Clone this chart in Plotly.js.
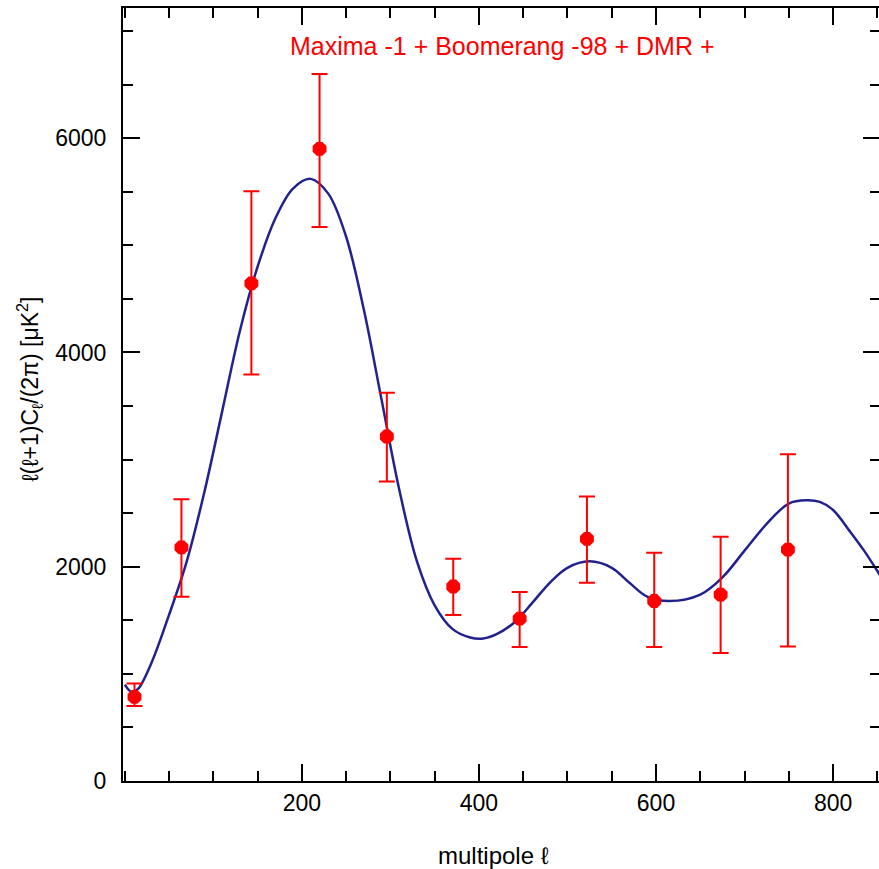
<!DOCTYPE html>
<html>
<head>
<meta charset="utf-8">
<script src="https://cdn.plot.ly/plotly-3.0.1.min.js"></script>
<style>
html,body{margin:0;padding:0;overflow:hidden;background:#fff;}
#chart{width:882px;height:869px;}
</style>
</head>
<body>
<div id="chart"></div>
<script>
// Data points: multipole, power, errors
const ell = [11, 64, 143, 220, 296, 371, 446, 522, 598, 673, 749];
const power = [785, 2180, 4645, 5900, 3215, 1815, 1515, 2260, 1680, 1740, 2160];
const errPlus = [125, 450, 860, 700, 410, 260, 250, 395, 450, 540, 890];
const errMinus = [85, 460, 850, 730, 420, 265, 265, 410, 430, 545, 905];

// Model curve
const curveEll = [0, 8, 15, 30, 50, 70, 90, 110, 130, 150, 170, 190, 210, 230, 250, 270, 290, 310, 330, 350, 370, 390, 405, 420, 440, 460, 480, 500, 525, 550, 570, 590, 615, 650, 675, 700, 725, 750, 770, 785, 800, 819, 835, 853];
const curvePow = [900, 830, 860, 1100, 1550, 2050, 2700, 3450, 4200, 4800, 5250, 5530, 5620, 5480, 5080, 4400, 3560, 2720, 2050, 1640, 1420, 1340, 1330, 1370, 1480, 1660, 1850, 1990, 2050, 1990, 1850, 1720, 1680, 1740, 1900, 2150, 2400, 2590, 2620, 2605, 2530, 2330, 2150, 1920];

const titleText = "Maxima -1 + Boomerang -98 + DMR +";
const xLabel = "multipole ℓ";
const yLabel = "ℓ(ℓ+1)C<sub>ℓ</sub>/(2π) [μK<sup>2</sup>]";

const red = "#ff0000";
const navy = "#22228e";

const traces = [
  {
    x: curveEll, y: curvePow, type: "scatter", mode: "lines",
    line: {color: navy, width: 2.5, shape: "spline", smoothing: 1},
    hoverinfo: "skip", showlegend: false
  },
  {
    x: ell, y: power, type: "scatter", mode: "markers",
    marker: {symbol: "octagon", size: 15, color: red, line: {width: 0}},
    error_y: {type: "data", symmetric: false, array: errPlus, arrayminus: errMinus,
              color: red, thickness: 2, width: 8},
    showlegend: false
  }
];

const axisCommon = {
  showline: true, linecolor: "#000", linewidth: 2,
  ticks: "inside", tickcolor: "#000", tickwidth: 2, ticklen: 17,
  mirror: "ticks", showgrid: false, zeroline: false,
  tickfont: {family: "Liberation Sans, Arial, sans-serif", size: 23, color: "#000"}
};

const layout = {
  width: 882, height: 869,
  margin: {l: 123, r: 2, t: 8, b: 88},
  paper_bgcolor: "#fff", plot_bgcolor: "#fff",
  showlegend: false,
  xaxis: Object.assign({}, axisCommon, {
    range: [-2, 853], tickvals: [200, 400, 600, 800],
    minor: {dtick: 50, tick0: 0, ticks: "inside", ticklen: 10, tickwidth: 2, tickcolor: "#000", showgrid: false}
  }),
  yaxis: Object.assign({}, axisCommon, {
    range: [0, 7215], tickvals: [0, 2000, 4000, 6000], ticklabelstandoff: 10,
    minor: {dtick: 500, tick0: 0, ticks: "inside", ticklen: 10, tickwidth: 2, tickcolor: "#000", showgrid: false}
  }),
  annotations: [
    {text: titleText, xref: "paper", yref: "paper", x: 0.5, y: 0.951,
     xanchor: "center", yanchor: "middle", showarrow: false,
     font: {family: "Liberation Sans, Arial, sans-serif", size: 25, color: red}},
    {text: xLabel, xref: "paper", yref: "paper", x: 0.49, y: -0.096,
     xanchor: "center", yanchor: "middle", showarrow: false,
     font: {family: "Liberation Sans, Arial, sans-serif", size: 24, color: "#000"}},
    {text: yLabel, xref: "paper", yref: "paper", x: -0.124, y: 0.506,
     xanchor: "center", yanchor: "middle", showarrow: false, textangle: -90,
     font: {family: "Liberation Sans, Arial, sans-serif", size: 23, color: "#000"}}
  ]
};

Plotly.newPlot("chart", traces, layout, {displayModeBar: false, staticPlot: true});
</script>
</body>
</html>
